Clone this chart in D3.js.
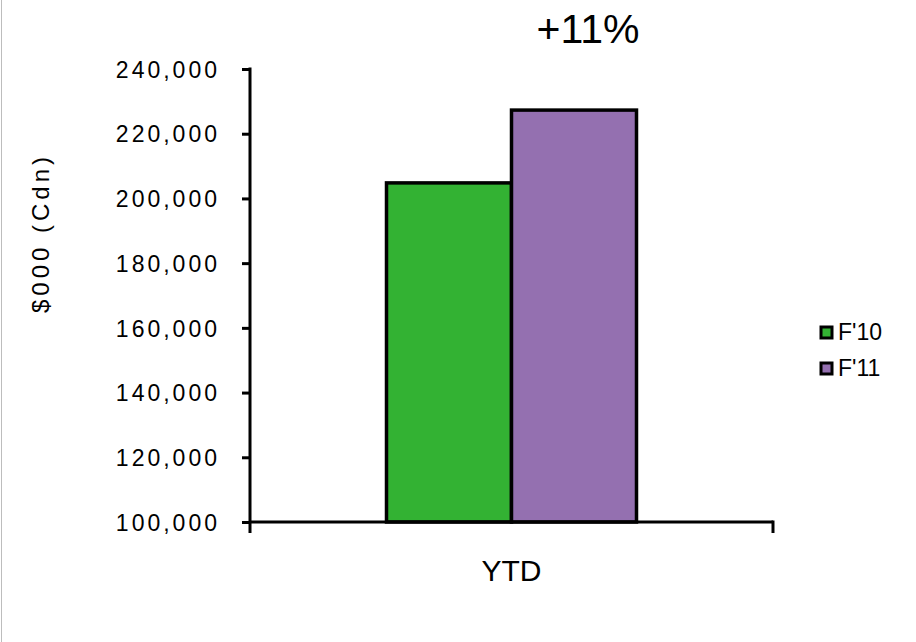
<!DOCTYPE html>
<html>
<head>
<meta charset="utf-8">
<script src="https://cdn.jsdelivr.net/npm/d3@7/dist/d3.min.js"></script>
<style>
  html, body { margin: 0; padding: 0; background: #fff; }
  svg { display: block; }
  text { font-family: "Liberation Sans", Arial, sans-serif; fill: #000; }
</style>
</head>
<body>
<svg id="chart" width="916" height="642"></svg>
<script>
const categories = ["YTD"];
const seriesNames = ["F'10", "F'11"];
const seriesValues = [[204800], [227300]];
const seriesColors = ["#33b233", "#9470b0"];
const yTicks = [100000, 120000, 140000, 160000, 180000, 200000, 220000, 240000];
const titleText = "+11%";
const yAxisTitle = "$000 (Cdn)";

const svg = d3.select("#chart");
svg.append("rect").attr("width", 916).attr("height", 642).attr("fill", "#fff");
svg.append("line").attr("x1", 1.5).attr("x2", 1.5).attr("y1", 0).attr("y2", 642)
  .attr("stroke", "#bdbdbd").attr("stroke-width", 1);

const plotLeft = 250, plotRight = 773, plotTop = 69, plotBottom = 522;

const y = d3.scaleLinear().domain([100000, 240000]).range([plotBottom, plotTop]);
const x = d3.scaleBand().domain(categories).range([plotLeft, plotRight])
  .paddingInner(0).paddingOuter(0.546);
const xs = d3.scaleBand().domain(seriesNames).range([0, x.bandwidth()]).padding(0);

// bars
const groups = svg.append("g").selectAll("g").data(categories).join("g")
  .attr("transform", c => `translate(${x(c)},0)`);
seriesNames.forEach((s, si) => {
  groups.append("rect")
    .attr("x", xs(s))
    .attr("width", xs.bandwidth())
    .attr("y", (c, ci) => y(seriesValues[si][ci]))
    .attr("height", (c, ci) => y(100000) - y(seriesValues[si][ci]))
    .attr("fill", seriesColors[si])
    .attr("stroke", "#000")
    .attr("stroke-width", 3.5);
});

// y axis
const fmt = d3.format(",");
const yAxis = d3.axisLeft(y).tickValues(yTicks).tickFormat(fmt).tickSize(8).tickPadding(22);
const yg = svg.append("g").attr("transform", `translate(${plotLeft},0)`).call(yAxis);
yg.select(".domain").remove();
yg.selectAll(".tick line").attr("stroke", "#000").attr("stroke-width", 3);
yg.selectAll(".tick text").attr("font-size", 23).attr("font-family", "Liberation Sans, Arial, sans-serif")
  .attr("letter-spacing", 3).attr("dy", "0.36em");
yg.append("line").attr("x1", 0).attr("x2", 0).attr("y1", plotTop - 1.5).attr("y2", plotBottom + 11)
  .attr("stroke", "#000").attr("stroke-width", 3);

// x axis
const xg = svg.append("g");
xg.append("line").attr("x1", plotLeft).attr("x2", plotRight).attr("y1", plotBottom).attr("y2", plotBottom)
  .attr("stroke", "#000").attr("stroke-width", 3);
xg.append("line").attr("x1", plotRight).attr("x2", plotRight).attr("y1", plotBottom - 1.5).attr("y2", plotBottom + 11)
  .attr("stroke", "#000").attr("stroke-width", 3);
xg.selectAll("text.cat").data(categories).join("text").attr("class", "cat")
  .attr("x", c => x(c) + x.bandwidth() / 2).attr("y", 581)
  .attr("text-anchor", "middle").attr("font-size", 30).text(c => c);

// title
svg.append("text").attr("x", 588).attr("y", 43).attr("text-anchor", "middle")
  .attr("font-size", 41).text(titleText);

// y axis title
svg.append("text").attr("transform", "translate(49,233) rotate(-90)")
  .attr("text-anchor", "middle").attr("font-size", 24).attr("letter-spacing", 4).text(yAxisTitle);

// legend
const leg = svg.append("g").selectAll("g").data(seriesNames).join("g")
  .attr("transform", (d, i) => `translate(821,${327 + i * 36})`);
leg.append("rect").attr("width", 11).attr("height", 11)
  .attr("fill", (d, i) => seriesColors[i]).attr("stroke", "#000").attr("stroke-width", 3);
leg.append("text").attr("x", 17).attr("y", 13).attr("font-size", 23).text(d => d);
</script>
</body>
</html>
